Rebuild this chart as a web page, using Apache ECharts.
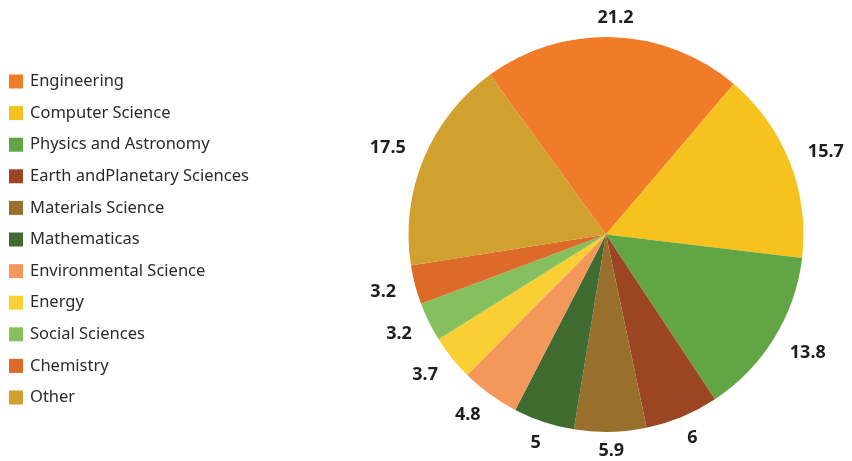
<!DOCTYPE html>
<html>
<head>
<meta charset="utf-8">
<style>
  html, body { margin: 0; padding: 0; background: #ffffff; }
  #chart { width: 852px; height: 461px; }
</style>
<script src="https://cdn.jsdelivr.net/npm/echarts@6/dist/echarts.min.js"></script>
</head>
<body>
<div id="chart"></div>
<script>
// Share of publications by subject area (%)
const categories = [
  'Engineering',
  'Computer Science',
  'Physics and Astronomy',
  'Earth andPlanetary Sciences',
  'Materials Science',
  'Mathematicas',
  'Environmental Science',
  'Energy',
  'Social Sciences',
  'Chemistry',
  'Other'
];
const values = [21.2, 15.7, 13.8, 6, 5.9, 5, 4.8, 3.7, 3.2, 3.2, 17.5];

// Slice colours, one per category
const palette = [
  '#F07C2A', '#F6C21D', '#62A544', '#9C4523', '#98702C', '#3F6B31',
  '#F4975A', '#F9CF33', '#86BF5D', '#DD6A28', '#D0A12E'
];

// Pie geometry
const PIE_CX = 606;
const PIE_CY = 234.5;
const PIE_R = 197.5;
const START_ANGLE = 126; // degrees, counter-clockwise from 3 o'clock

const total = values.reduce((a, b) => a + b, 0);
const midFractions = [];
(function () {
  let acc = 0;
  values.forEach(v => { midFractions.push((acc + v / 2) / total); acc += v; });
})();

function clamp(v, lo, hi) { return Math.max(lo, Math.min(hi, v)); }

const chart = echarts.init(document.getElementById('chart'), null, { renderer: 'canvas' });

chart.setOption({
  animation: false,
  backgroundColor: '#ffffff',
  color: palette,
  legend: {
    orient: 'vertical',
    left: 4,
    top: 68,
    itemWidth: 14,
    itemHeight: 14,
    itemGap: 14.6,
    icon: 'rect',
    textStyle: {
      fontFamily: 'Noto Sans',
      fontSize: 16.5,
      lineHeight: 16,
      color: '#2b2b2b',
      padding: [0, 0, 0, 2]
    },
    data: categories
  },
  series: [{
    type: 'pie',
    center: [PIE_CX, PIE_CY],
    radius: PIE_R,
    startAngle: START_ANGLE,
    clockwise: true,
    avoidLabelOverlap: false,
    itemStyle: { borderWidth: 0 },
    label: {
      show: true,
      position: 'outside',
      formatter: p => String(p.value),
      fontFamily: 'Noto Sans',
      fontWeight: 'bold',
      fontSize: 18,
      lineHeight: 14,
      color: '#1f1f1f'
    },
    labelLine: { show: false, length: 15, length2: 0 },
    // Place each value just outside the rim along its slice's mid-angle
    labelLayout: function (p) {
      const theta = (90 - START_ANGLE + midFractions[p.dataIndex] * 360) * Math.PI / 180;
      const ux = Math.sin(theta);
      const uy = -Math.cos(theta);
      const w = p.labelRect.width;
      const h = p.labelRect.height;
      const gap = 10 + 10 * Math.abs(ux);
      const r = PIE_R + gap;
      return {
        x: PIE_CX + ux * r + clamp(ux * 2.5, -1, 1) * w / 2,
        y: PIE_CY + uy * r + uy * h / 2,
        align: 'center',
        verticalAlign: 'middle'
      };
    },
    data: categories.map((name, i) => ({ name: name, value: values[i] }))
  }]
});
</script>
</body>
</html>
